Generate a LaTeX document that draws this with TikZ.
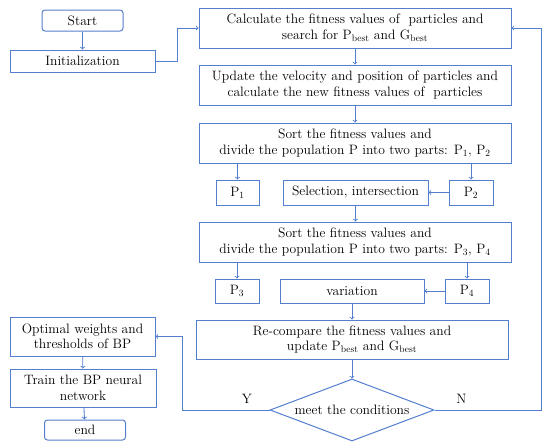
\documentclass[tikz,border=0pt]{standalone}
\usepackage{tikz}
\usetikzlibrary{shapes.geometric,arrows}
\definecolor{lineblue}{RGB}{84,126,206}

\begin{document}
\begin{tikzpicture}[x=1pt,y=-1pt,font=\fontsize{13.6}{15.5}\selectfont,
  box/.style={draw=lineblue,line width=1pt,align=center,inner sep=1pt},
  bigbox/.style={box,minimum width=312,minimum height=40},
  smallbox/.style={box,minimum height=25},
  termbox/.style={box,rounded corners=3pt,minimum width=81,minimum height=21},
  flow/.style={draw=lineblue,line width=0.9pt,->}]
\useasboundingbox (0,0) rectangle (550,447);
% left column
\node[termbox] (start) at (82.5,20.5) {Start};
\node[box,minimum width=145,minimum height=22] (init) at (82.5,61) {Initialization};
% main column
\node[bigbox] (calc) at (355,28) {Calculate the fitness values of \ particles and\\ search for P\textsubscript{best} and G\textsubscript{best}};
\node[bigbox] (upd) at (355,85) {Update the velocity and position of particles and\\ calculate the new fitness values of \ particles};
\node[bigbox] (sorta) at (355,143) {Sort the fitness values and\\ divide the population P into two parts: P\textsubscript{1}, P\textsubscript{2}};
\node[smallbox,minimum width=43] (pa) at (237.5,192.5) {P\textsubscript{1}};
\node[smallbox,minimum width=145] (sel) at (355.5,192.5) {Selection, intersection};
\node[smallbox,minimum width=44] (pb) at (471,192.5) {P\textsubscript{2}};
\node[bigbox] (sortb) at (355,242) {Sort the fitness values and\\ divide the population P into two parts: P\textsubscript{3}, P\textsubscript{4}};
\node[smallbox,minimum width=44,minimum height=24] (pc) at (237,291) {P\textsubscript{3}};
\node[smallbox,minimum width=144,minimum height=24] (var) at (352,291) {variation};
\node[smallbox,minimum width=44,minimum height=24] (pd) at (467,291) {P\textsubscript{4}};
\node[bigbox,minimum height=39] (recmp) at (352,339.5) {Re-compare the fitness values and\\ update P\textsubscript{best} and G\textsubscript{best}};
\node[draw=lineblue,line width=1pt,diamond,aspect=2.6,inner sep=0pt,minimum width=164,minimum height=62] (cond) at (352,410) {meet the conditions};
% output column
\node[box,minimum width=145,minimum height=39] (opt) at (82.5,336.5) {Optimal weights and\\ thresholds of BP};
\node[box,minimum width=146,minimum height=38] (train) at (83,388) {Train the BP neural\\ network};
\node[termbox,minimum height=20] (end) at (85,430) {end};
% connectors
\draw[flow] (start) -- (init);
\draw[flow] (init.east) -- ++(22,0) |- (calc.west);
\draw[flow] (calc) -- (upd);
\draw[flow] (upd) -- (sorta);
\draw[flow] (pa |- sorta.south) -- (pa);
\draw[flow] (pb |- sorta.south) -- (pb);
\draw[flow] (pb) -- (sel);
\draw[flow] (sel.south) -- (sel.south |- sortb.north);
\draw[flow] (pc |- sortb.south) -- (pc);
\draw[flow] (pd |- sortb.south) -- (pd);
\draw[flow] (pd) -- (var);
\draw[flow] (var.south) -- (var.south |- recmp.north);
\draw[flow] (recmp) -- (cond);
\draw[flow] (cond.east) -- ++(107,0) node[pos=0.25,above=3pt,text=black] {N} |- (calc.east);
\draw[flow] (cond.west) -- ++(-87,0) node[pos=0.26,above=3pt,text=black] {Y} |- (opt.east);
\draw[flow] (opt) -- (train);
\draw[flow] (train) -- (end);
\end{tikzpicture}
\end{document}
